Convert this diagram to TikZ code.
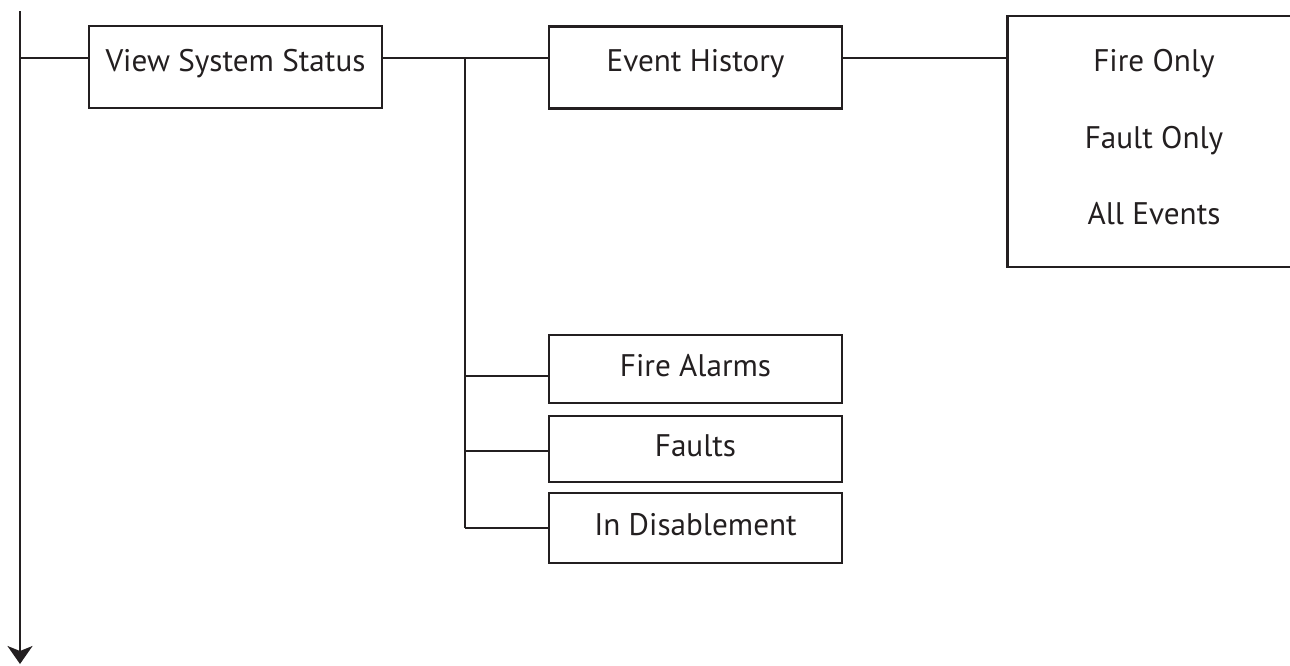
\documentclass[tikz,border=0pt]{standalone}
\usepackage{fontspec}
\setmainfont{PT Sans}
\usetikzlibrary{arrows.meta,positioning}
\definecolor{ink}{HTML}{231F20}

\begin{document}
\begin{tikzpicture}[
    x=0.5pt, y=-0.5pt,
    itemfont/.style={font=\fontsize{15.6}{19}\selectfont, text=ink},
    menu/.style={draw=ink, line width=1.2pt, itemfont, minimum width=146.5pt, minimum height=41pt, align=center, inner sep=0pt, text height=11.5pt, text depth=7.5pt},
    sub/.style={menu, minimum height=34pt, text depth=4.5pt},
    txt/.style={itemfont, anchor=base, inner sep=0pt},
    wire/.style={draw=ink, line width=1.1pt},
    arr/.style={-{Stealth[length=9pt, width=12.5pt, inset=2.5pt]}, draw=ink, fill=ink, line width=1.1pt}
]
\useasboundingbox (0,0) rectangle (1290,665);

% menu boxes
\node[menu] (VSS) at (235.5,67) {View System Status};
\node[menu] (EH) at (695.5,67.5) {Event History};
\node[menu, minimum height=125.5pt] (OPT) at (1154,141.5) {};
\node[txt] (FO) at (1154,71) {Fire Only};
\node[txt] (FLO) at (1154,148) {Fault Only};
\node[txt] (AE) at (1154,224) {All Events};
\node[sub] (FA) at (695.5,369) {Fire Alarms};
\node[sub, minimum height=33pt] (FL) at (695.5,449) {Faults};
\node[sub, minimum height=35pt] (ID) at (695.5,528) {In Disablement};

% rail and branch points
\coordinate (top) at (20,11);
\coordinate (bot) at (20,664);
\coordinate (tap) at (20,58);
\coordinate (fork) at (465,58);
\coordinate (bFA) at (465,376);
\coordinate (bFL) at (465,451);
\coordinate (bID) at (465,528);

\draw[arr] (top) -- (bot);
\draw[wire] (tap) -- (tap -| VSS.west);
\draw[wire] (VSS.east |- tap) -- (EH.west |- tap);
\draw[wire] (EH.east |- tap) -- (OPT.west |- tap);
\draw[wire] (fork) -- (bID);
\draw[wire] (bFA) -- (bFA -| FA.west);
\draw[wire] (bFL) -- (bFL -| FL.west);
\draw[wire] (bID) -- (bID -| ID.west);
\end{tikzpicture}
\end{document}
